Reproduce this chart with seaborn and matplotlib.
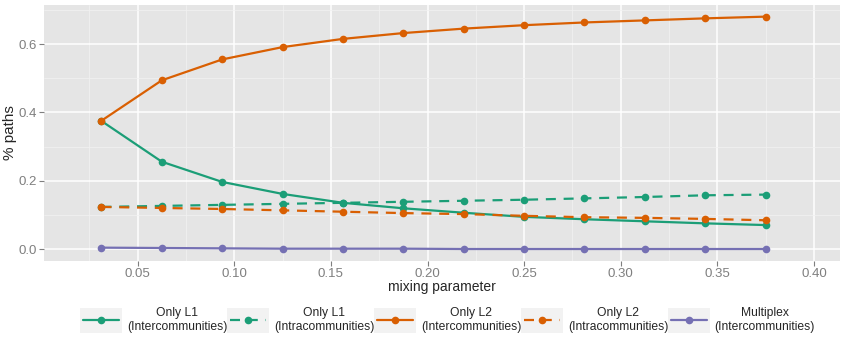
import matplotlib
matplotlib.use("Agg")
import matplotlib.pyplot as plt
import seaborn as sns
import pandas as pd
import numpy as np
from matplotlib.lines import Line2D
from matplotlib.patches import Rectangle
from matplotlib.legend_handler import HandlerLine2D
from matplotlib.ticker import MultipleLocator

mixing = [0.03125, 0.0625, 0.09375, 0.125, 0.15625, 0.1875, 0.21875, 0.25,
          0.28125, 0.3125, 0.34375, 0.375]
l1_inter = [0.375, 0.256, 0.197, 0.162, 0.136, 0.120, 0.107, 0.095, 0.088, 0.082, 0.076, 0.071]
l1_intra = [0.124, 0.127, 0.130, 0.133, 0.136, 0.139, 0.142, 0.145, 0.149, 0.153, 0.158, 0.160]
l2_inter = [0.376, 0.494, 0.555, 0.591, 0.615, 0.632, 0.645, 0.655, 0.663, 0.669, 0.675, 0.680]
l2_intra = [0.124, 0.121, 0.118, 0.114, 0.110, 0.106, 0.103, 0.098, 0.094, 0.092, 0.089, 0.085]
multiplex = [0.005, 0.004, 0.003, 0.002, 0.002, 0.002, 0.001, 0.001, 0.001, 0.001, 0.001, 0.001]

labels = ["Only L1\n(Intercommunities)", "Only L1\n(Intracommunities)",
          "Only L2\n(Intercommunities)", "Only L2\n(Intracommunities)",
          "Multiplex\n(Intercommunities)"]
series = [l1_inter, l1_intra, l2_inter, l2_intra, multiplex]
colors = ["#1B9E77", "#1B9E77", "#D95F02", "#D95F02", "#7570B3"]
dashed = [False, True, False, True, False]

sns.set_theme(style="darkgrid")
plt.rcParams["font.family"] = ["Liberation Sans", "DejaVu Sans"]

fig = plt.figure(figsize=(8.51, 3.37), dpi=100)
ax = fig.add_axes([44/851, 1-261/337, 796/851, 256/337])
ax.set_facecolor("#E5E5E5")

dash_pat = (0, (4.5, 3.5))
for vals, lab, col, d in zip(series, labels, colors, dashed):
    df = pd.DataFrame({"x": mixing, "y": vals})
    sns.lineplot(data=df, x="x", y="y", ax=ax, color=col, lw=1.6,
                 linestyle=dash_pat if d else "-", marker="o", markersize=5.5,
                 markeredgewidth=0, legend=False)

ax.set_xlim(0.0015, 0.4135)
ax.set_ylim(-0.034, 0.714)
ax.xaxis.set_minor_locator(MultipleLocator(0.025))
ax.yaxis.set_minor_locator(MultipleLocator(0.1))
xt = [0.05, 0.10, 0.15, 0.20, 0.25, 0.30, 0.35, 0.40]
ax.set_xticks(xt)
ax.set_xticklabels([f"{v:.2f}" for v in xt])
ax.set_yticks([0.0, 0.2, 0.4, 0.6])
ax.set_yticklabels(["0.0", "0.2", "0.4", "0.6"])
ax.grid(which="major", color="white", lw=1.1)
ax.grid(which="minor", color="#F2F2F2", lw=0.5)
ax.set_axisbelow(True)
for s in ax.spines.values():
    s.set_visible(False)
ax.tick_params(axis="both", which="major", labelsize=9.5, labelcolor="#7F7F7F",
               length=3.5, width=0.8, color="#7F7F7F", pad=1.5,
               bottom=True, left=True)
ax.tick_params(which="minor", length=0, bottom=False, left=False)
ax.set_xlabel("mixing parameter", fontsize=10, labelpad=0)
ax.set_ylabel("% paths", fontsize=11, labelpad=1)


class KeyHandler(HandlerLine2D):
    def create_artists(self, legend, orig_handle, xdescent, ydescent, width,
                       height, fontsize, trans):
        rect = Rectangle((-xdescent - 2, -ydescent - 6), width + 4, height + 12,
                         facecolor="#F2F2F2", edgecolor="none", transform=trans)
        arts = super().create_artists(legend, orig_handle, xdescent, ydescent,
                                      width, height, fontsize, trans)
        return [rect] + list(arts)


handles = [Line2D([], [], color=c, lw=1.6, linestyle=dash_pat if d else "-",
                  marker="o", markersize=5.5, markeredgewidth=0)
           for c, d in zip(colors, dashed)]
leg = fig.legend(handles, labels, loc="center", bbox_to_anchor=(449/851, 1-320/337),
                 ncol=5, frameon=False, fontsize=8.7, handlelength=3.0,
                 handletextpad=0.65, columnspacing=0.2,
                 handler_map={h: KeyHandler(numpoints=1) for h in handles})
for t in leg.get_texts():
    t.set_multialignment("center")

fig.savefig("out.png", dpi=100)
